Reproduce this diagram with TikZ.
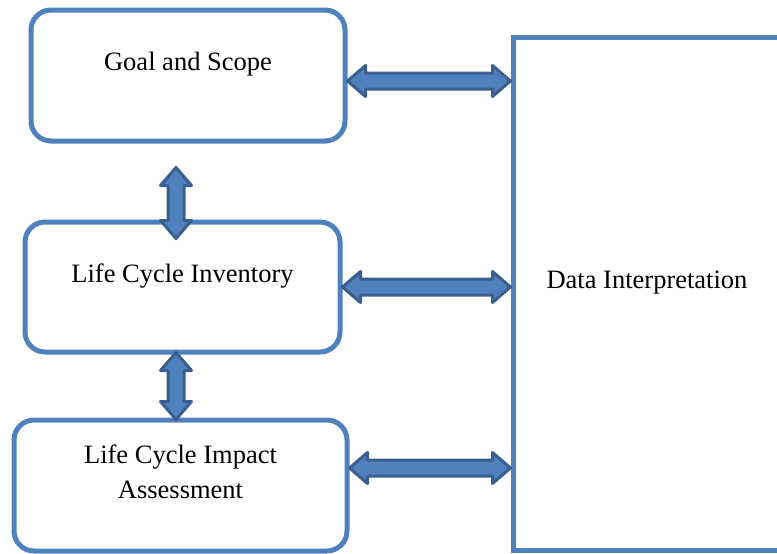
\documentclass[tikz,border=0pt]{standalone}
\usepackage{fontspec}
\setmainfont{Liberation Serif}
\usetikzlibrary{calc}
\definecolor{stageblue}{HTML}{4F81BD}
\definecolor{arrowedge}{HTML}{3A5F8F}

\begin{document}
\begin{tikzpicture}
      [x = 1pt, y = -1pt,
      every node/.style = {font = \fontsize{26.5}{35}\selectfont},
      stage/.style = {
         draw = stageblue,
         line width = 5pt,
         rounded corners = 20pt,
         inner sep = 0pt,
         align = center
      },
      fatarrow/.style = {
         draw = arrowedge,
         fill = stageblue,
         line width = 3pt,
         line join = round
      },
      harrow/.style = {
         fatarrow,
         to path = {let \p1 = (\tikztostart), \p2 = (\tikztotarget) in
            -- ({\x1+18pt}, {\y1+15.5pt}) -- ({\x1+18pt}, {\y1+8pt})
            -- ({\x2-18pt}, {\y1+8pt}) -- ({\x2-18pt}, {\y1+15.5pt})
            -- (\x2, \y1) -- ({\x2-18pt}, {\y1-15.5pt})
            -- ({\x2-18pt}, {\y1-8pt}) -- ({\x1+18pt}, {\y1-8pt})
            -- ({\x1+18pt}, {\y1-15.5pt}) -- cycle}
      },
      varrow/.style = {
         fatarrow,
         to path = {let \p1 = (\tikztostart), \p2 = (\tikztotarget) in
            -- ({\x1-15.5pt}, {\y1-18pt}) -- ({\x1-8pt}, {\y1-18pt})
            -- ({\x1-8pt}, {\y2+18pt}) -- ({\x1-15.5pt}, {\y2+18pt})
            -- (\x1, \y2) -- ({\x1+15.5pt}, {\y2+18pt})
            -- ({\x1+8pt}, {\y2+18pt}) -- ({\x1+8pt}, {\y1-18pt})
            -- ({\x1+15.5pt}, {\y1-18pt}) -- cycle}
      }]

      \useasboundingbox (0, 0) rectangle (777, 554);
      \clip (0, 0) rectangle (777, 554);

      \node (goal) [stage, minimum width = 314pt, text height = 60pt,
         text depth = 71pt] at (188, 75.5) {Goal and Scope};
      \node (inv) [stage, minimum width = 315pt, text height = 60pt,
         text depth = 70pt] at (182.5, 287) {Life Cycle Inventory};
      \node (lcia) [stage, minimum width = 333pt, text height = 78pt,
         text depth = 53pt] at (180.5, 485.5) {Life Cycle Impact\\Assessment};
      \node (interp) [stage, rounded corners = 0pt, minimum width = 268pt,
         text height = 251pt, text depth = 262pt] at (647, 293.5)
         {Data Interpretation};

      \coordinate (goalout) at ([yshift = -5.5pt]goal.east);
      \coordinate (lciaout) at ([yshift = 17.5pt]lcia.east);
      \coordinate (goaldown) at ([xshift = -12pt, yshift = -24pt]goal.south);
      \coordinate (invup) at ([xshift = -6.5pt, yshift = -19pt]inv.north);
      \coordinate (invdown) at ([xshift = -6.5pt, yshift = 2pt]inv.south);
      \coordinate (lciaup) at ([xshift = -4.5pt, yshift = -2pt]lcia.north);

      \draw[harrow] (goalout) to (goalout -| interp.west);
      \draw[harrow] (inv.east) to (inv.east -| interp.west);
      \draw[harrow] (lciaout) to (lciaout -| interp.west);

      \draw[varrow] (goaldown) to (invup);
      \draw[varrow] (invdown) to (lciaup);

   \end{tikzpicture}
\end{document}
